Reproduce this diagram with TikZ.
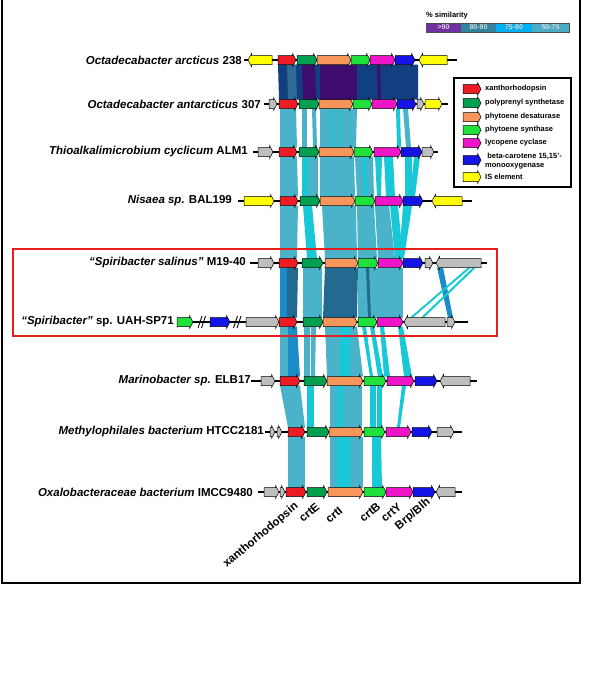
\documentclass[tikz,border=0pt]{standalone}
\usepackage{fontspec}
\setmainfont{Liberation Sans}
\usepackage{tikz}
\definecolor{xrred}{RGB}{237,28,36}
\definecolor{crtEgreen}{RGB}{0,160,80}
\definecolor{crtIorange}{RGB}{247,150,90}
\definecolor{crtBgreen}{RGB}{30,225,60}
\definecolor{crtYpink}{RGB}{240,20,200}
\definecolor{blhblue}{RGB}{20,20,230}
\definecolor{isyellow}{RGB}{255,255,0}
\definecolor{othergrey}{RGB}{190,190,190}
\definecolor{simpurple}{RGB}{61,12,108}
\definecolor{simnavy}{RGB}{18,63,128}
\definecolor{simsteel}{RGB}{45,107,150}
\definecolor{simdark}{RGB}{35,106,144}
\definecolor{simblue}{RGB}{26,140,200}
\definecolor{simteal}{RGB}{74,179,201}
\definecolor{simcyan}{RGB}{25,200,214}
\definecolor{keypurple}{RGB}{112,48,160}
\definecolor{keyteal}{RGB}{49,132,155}
\definecolor{keyblue}{RGB}{0,176,240}
\definecolor{keylight}{RGB}{75,172,198}
\definecolor{boxred}{RGB}{230,30,30}

% one gene: from x1 to the tip at x2, on row y
\newcommand{\genearrow}[4]{%
  \pgfmathsetmacro{\gtip}{#2-3.5*sign(#2-#1)}%
  \draw[genebody, fill=#4] (#1,#3-4.5) -- (\gtip,#3-4.5) -- (\gtip,#3-6.5) -- (#2,#3)
    -- (\gtip,#3+6.5) -- (\gtip,#3+4.5) -- (#1,#3+4.5) -- cycle;}
% similarity bands between two rows
\newcommand{\simbands}[3]{%
  \foreach \xa/\xb/\xc/\xd/\col in {#3}
    \fill[\col] (\xa,#1) -- (\xb,#1) -- (\xd,#2) -- (\xc,#2) -- cycle;}

\begin{document}
\begin{tikzpicture}[x=1pt, y=-1pt,
    backbone/.style={line width=1.1pt},
    genebody/.style={draw=black, line width=0.5pt},
    orgname/.style={anchor=east, inner sep=0pt, font=\fontsize{11.5}{13}\selectfont\bfseries},
    genename/.style={anchor=east, inner sep=0pt, rotate=40, font=\fontsize{11.5}{13}\selectfont\bfseries},
    keytext/.style={anchor=west, inner sep=0pt, align=left, font=\fontsize{7.5}{8.5}\selectfont\bfseries},
    scaletext/.style={inner sep=0pt, text=white!85!black, font=\fontsize{7}{8}\selectfont\bfseries}]
    \useasboundingbox (0,0) rectangle (600,683);

    % Frame
    \draw[line width=2pt] (2,0) -- (2,583) -- (580,583) -- (580,0);

    % Similarity bands
    \simbands{64.5}{99.5}{278/418/279/418/simnavy, 287/296/288/297/simsteel,
      302/315/303/316/simpurple, 320/357/320/357/simpurple, 377/380/378/381/simpurple}
    \simbands{108.5}{147.5}{280/296/280/297/simteal, 302/307/302/307/simteal,
      312/316/313/317/simteal, 320/357/320/356/simteal, 331/332.5/331/332.5/simcyan,
      339/340.5/339/340.5/simcyan, 396/400/397/401/simcyan, 403/408/406/411/simteal}
    \simbands{156.5}{196.5}{280/297/280/298/simteal, 302/308/302/308/simcyan,
      308/318/308/318/simteal, 320/354/320/355/simteal, 355/373/357/374/simteal,
      362/366/364/368/simcyan, 375/382/377/381/simcyan, 384/393/386/395/simcyan,
      405/412/405/412/simcyan, 414/420/410/415/simcyan}
    \simbands{205.5}{258.5}{280/298/280/297/simteal, 303/312/307/317/simcyan,
      322/356/325/357/simteal, 357/374/358/377/simteal, 375/389/378/395/simteal,
      390/398/395/403/simcyan, 403/412/399/404/simcyan}
    \simbands{267.5}{317.5}{280/287/280/287/simblue, 287/298/287/297/simdark,
      303/322/303/322/simteal, 358/403/358/403/simteal, 325/358/323/357/simdark,
      366/369/368/371/simdark, 437/443/448/453/simblue, 468/471/410/413/simcyan,
      473/476/421/424/simcyan}
    \simbands{326.5}{376.5}{280/288/280/288/simteal, 288/297/288/300/simblue,
      304/310/304/310/simteal, 311/316/311/315/simteal, 325/340/327/340/simteal,
      340/350/340/350/simcyan, 350/357/350/363/simteal, 362/366/370/373/simcyan,
      370/374/378/383/simcyan, 380/384/384/390/simcyan, 398/403/404/412/simcyan}
    \simbands{385.5}{427.5}{280/300/288/305/simteal, 307/314/307/314/simcyan,
      330/337/330/337/simteal, 337/343/337/343/simcyan, 343/362/343/362/simteal,
      370/376/370/376/simcyan, 377/382/377/382/simcyan, 402/406/397/400/simcyan}
    \simbands{436.5}{487.5}{288/305/288/305/simteal, 330/337/330/337/simteal,
      337/350/337/350/simcyan, 350/363/350/363/simteal, 372/381/372/382/simcyan}

    % Octadecabacter arcticus 238
    \draw[backbone] (244,60) -- (457,60);
    \foreach \xa/\xb/\col in {272/248/isyellow, 278/296/xrred, 297/317/crtEgreen,
        317/351/crtIorange, 351/370/crtBgreen, 370/395/crtYpink, 395/415/blhblue, 447/419/isyellow}
        \genearrow{\xa}{\xb}{60}{\col};
    \node[orgname] (arcticus) at (242,60) {\textit{Octadecabacter arcticus} 238};

    % Octadecabacter antarcticus 307
    \draw[backbone] (264,104) -- (448,104);
    \foreach \xa/\xb/\col in {269/277/othergrey, 279/298/xrred, 299/319/crtEgreen,
        319/353/crtIorange, 353/372/crtBgreen, 372/397/crtYpink, 397/416/blhblue,
        417/424/othergrey, 425/442/isyellow}
        \genearrow{\xa}{\xb}{104}{\col};
    \node[orgname] (antarcticus) at (261,104) {\textit{Octadecabacter antarcticus} 307};

    % Thioalkalimicrobium cyclicum ALM1
    \draw[backbone] (253,152) -- (438,152);
    \foreach \xa/\xb/\col in {258/273/othergrey, 279/297/xrred, 299/319/crtEgreen,
        319/354/crtIorange, 354/373/crtBgreen, 374/401/crtYpink, 401/422/blhblue, 422/434/othergrey}
        \genearrow{\xa}{\xb}{152}{\col};
    \node[orgname] (cyclicum) at (248,152) {\textit{Thioalkalimicrobium cyclicum} ALM1};

    % Nisaea sp. BAL199
    \draw[backbone] (238,201) -- (472,201);
    \foreach \xa/\xb/\col in {244/274/isyellow, 280/298/xrred, 300/320/crtEgreen,
        320/355/crtIorange, 355/375/crtBgreen, 375/403/crtYpink, 403/423/blhblue, 462/432/isyellow}
        \genearrow{\xa}{\xb}{201}{\col};
    \node[orgname] (nisaea) at (232,201) {\textit{Nisaea sp.} BAL199};

    % Spiribacter salinus M19-40
    \draw[backbone] (250,263) -- (487,263);
    \foreach \xa/\xb/\col in {258/274/othergrey, 279/298/xrred, 302/323/crtEgreen,
        325/358/crtIorange, 358/378/crtBgreen, 378/403/crtYpink, 403/423/blhblue,
        425/433/othergrey, 481/436/othergrey}
        \genearrow{\xa}{\xb}{263}{\col};
    \node[orgname] (salinus) at (246,263) {\textit{“Spiribacter salinus”} M19-40};

    % Spiribacter sp. UAH-SP71
    \draw[backbone] (193,322) -- (468,322);
    \foreach \xs in {198,201.5,233.5,237}
        \draw[line width=0.9pt] (\xs,328) -- (\xs+4,316);
    \foreach \xa/\xb/\col in {177/193/crtBgreen, 210/230/blhblue, 246/279/othergrey,
        279/297/xrred, 303/323/crtEgreen, 323/357/crtIorange, 358/377/crtBgreen,
        377/403/crtYpink, 445/404/othergrey, 447/455/othergrey}
        \genearrow{\xa}{\xb}{322}{\col};
    \node[orgname] (uahsp) at (174,322) {\textit{“Spiribacter”} sp. UAH-SP71};

    % Marinobacter sp. ELB17
    \draw[backbone] (251,381) -- (477,381);
    \foreach \xa/\xb/\col in {261/275/othergrey, 280/300/xrred, 304/327/crtEgreen,
        327/363/crtIorange, 364/386/crtBgreen, 387/414/crtYpink, 415/437/blhblue, 470/440/othergrey}
        \genearrow{\xa}{\xb}{381}{\col};
    \node[orgname] (marinobacter) at (251,381) {\textit{Marinobacter sp.} ELB17};

    % Methylophilales bacterium HTCC2181
    \draw[backbone] (265,432) -- (462,432);
    \foreach \xa/\xb/\col in {270/275/othergrey, 277/282/othergrey, 288/305/xrred,
        307/329/crtEgreen, 329/363/crtIorange, 364/385/crtBgreen, 386/411/crtYpink,
        412/432/blhblue, 437/454/othergrey}
        \genearrow{\xa}{\xb}{432}{\col};
    \node[orgname] (methylo) at (264,432) {\textit{Methylophilales bacterium} HTCC2181};

    % Oxalobacteraceae bacterium IMCC9480
    \draw[backbone] (258,492) -- (462,492);
    \foreach \xa/\xb/\col in {264/279/othergrey, 280/285/othergrey, 286/306/xrred,
        307/327/crtEgreen, 328/363/crtIorange, 364/386/crtBgreen, 386/413/crtYpink,
        413/435/blhblue, 455/436/othergrey}
        \genearrow{\xa}{\xb}{492}{\col};
    \node[orgname] (oxalo) at (253,492) {\textit{Oxalobacteraceae bacterium} IMCC9480};

    % Gene names
    \node[genename] (nxr) at (297,505) {xanthorhodopsin};
    \node[genename] (ncrtE) at (318,505) {crtE};
    \node[genename] (ncrtI) at (341,509) {crtI};
    \node[genename] (ncrtB) at (379,505) {crtB};
    \node[genename] (ncrtY) at (400,505) {crtY};
    \node[genename] (nblh) at (429,501) {Brp/Blh};

    % Spiribacter box
    \draw[boxred, line width=1.5pt] (13,249) rectangle (497,336);

    % Similarity scale
    \node[anchor=west, inner sep=0pt, font=\fontsize{7.5}{8.5}\selectfont\bfseries] (simtitle) at (426,16) {\% similarity};
    \foreach \xl/\xr/\col/\txt in {426/461/keypurple/>90, 461/496/keyteal/80-90,
        496/532/keyblue/75-80, 532/569/keylight/50-75} {
        \fill[\col] (\xl,23) rectangle (\xr,32);
        \node[scaletext] (sim\txt) at ({(\xl+\xr)/2},27.5) {\txt};
    }
    \draw[line width=0.4pt, black!70] (426,23) rectangle (569,32);

    % Legend
    \draw[line width=1.5pt] (454,78) rectangle (571,187);
    \foreach \ky/\col/\txt in {89/xrred/xanthorhodopsin, 103/crtEgreen/polyprenyl synthetase,
        117/crtIorange/phytoene desaturase, 130/crtBgreen/phytoene synthase,
        143/crtYpink/lycopene cyclase, 177/isyellow/IS element} {
        \genearrow{463}{481}{\ky}{\col};
        \node[keytext] (key\ky) at (485,\ky) {\txt};
    }
    \genearrow{463}{481}{160}{blhblue};
    \node[keytext] (keyblh) at (485,161) {\ beta-carotene 15,15'-\\monooxygenase};
\end{tikzpicture}
\end{document}
